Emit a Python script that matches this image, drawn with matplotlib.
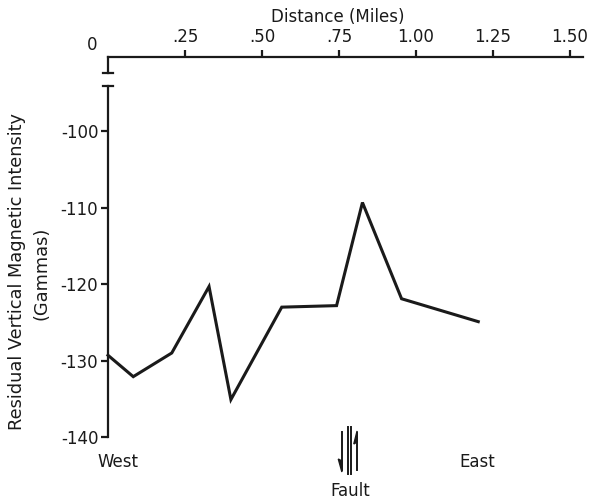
import numpy as np
import matplotlib
matplotlib.use("Agg")
import matplotlib.pyplot as plt
from matplotlib.lines import Line2D
from matplotlib.patches import Polygon

# survey profile
distance = [0.0, 0.082, 0.207, 0.328, 0.399, 0.564, 0.742, 0.826, 0.953, 1.202]
gammas = [-129.3, -132.1, -129.0, -120.3, -135.1, -123.0, -122.8, -109.3, -121.9, -124.9]

x_ticks = [0.25, 0.50, 0.75, 1.00, 1.25, 1.50]
x_tick_labels = ['.25', '.50', '.75', '1.00', '1.25', '1.50']
y_ticks = [-140, -130, -120, -110, -100]
y_tick_labels = ['-140', '-130', '-120', '-110', '-100']

W, H = 591, 503
plt.rcParams['font.family'] = ['DejaVu Sans']
fig = plt.figure(figsize=(W / 100, H / 100), dpi=100)
k = '#1a1a1a'
fs = 12


def px(x, y):
    # pixel position -> figure fraction
    return x / W, 1 - y / H


ax = fig.add_axes([108 / W, 66 / H, 475 / W, 380 / H])
ax.plot(distance, gammas, color=k, lw=2.2, solid_joinstyle='miter', clip_on=False)

ax.set_xlim(0, 1.542)
ax.set_ylim(-140, -90.25)

for s in ['right', 'bottom']:
    ax.spines[s].set_visible(False)
ax.spines['left'].set_bounds(-140, -94.0)
for s in ['left', 'top']:
    ax.spines[s].set_linewidth(1.6)
    ax.spines[s].set_color(k)

ax.xaxis.tick_top()
ax.set_xticks(x_ticks)
ax.set_xticklabels(x_tick_labels)
ax.set_yticks(y_ticks)
ax.set_yticklabels(y_tick_labels)
ax.tick_params(axis='x', direction='out', length=5, width=1.6, pad=3, labelsize=fs, colors=k)
ax.tick_params(axis='y', direction='out', length=5, width=1.6, pad=2, labelsize=fs, colors=k)

# axis break on the left spine
ax.plot([0, 0], [-90.25, -92.3], color=k, lw=1.6, clip_on=False)
for yb in [-92.3, -94.0]:
    ax.plot([-0.017, 0.016], [yb, yb], color=k, lw=1.6, clip_on=False)

fig.text(*px(92, 45), '0', fontsize=fs, ha='center', va='center', color=k)
fig.text(*px(338, 17), 'Distance (Miles)', fontsize=fs, ha='center', va='center', color=k)

fig.text(*px(17, 272), 'Residual Vertical Magnetic Intensity', fontsize=12.8,
         rotation=90, ha='center', va='center', color=k)
fig.text(*px(41, 273), '(Gammas)', fontsize=12.8, rotation=90, ha='center', va='center', color=k)

fig.text(*px(118, 462), 'West', fontsize=fs, ha='center', va='center', color=k)
fig.text(*px(477, 462), 'East', fontsize=fs, ha='center', va='center', color=k)
fig.text(*px(350, 491), 'Fault', fontsize=fs, ha='center', va='center', color=k)

# fault symbol
for xx in [347.8, 350.8]:
    fig.add_artist(Line2D(*zip(px(xx, 427), px(xx, 474)), transform=fig.transFigure, color=k, lw=1.4))
fig.add_artist(Line2D(*zip(px(341.7, 432), px(341.7, 470)), transform=fig.transFigure, color=k, lw=1.4))
fig.add_artist(Polygon([px(341.9, 472), px(338.3, 459), px(341.9, 461)], closed=True,
                       transform=fig.transFigure, color=k))
fig.add_artist(Line2D(*zip(px(357.3, 470), px(357.3, 433)), transform=fig.transFigure, color=k, lw=1.4))
fig.add_artist(Polygon([px(357.1, 431), px(353.8, 444), px(357.1, 442)], closed=True,
                       transform=fig.transFigure, color=k))

fig.savefig('out.png', dpi=100)
